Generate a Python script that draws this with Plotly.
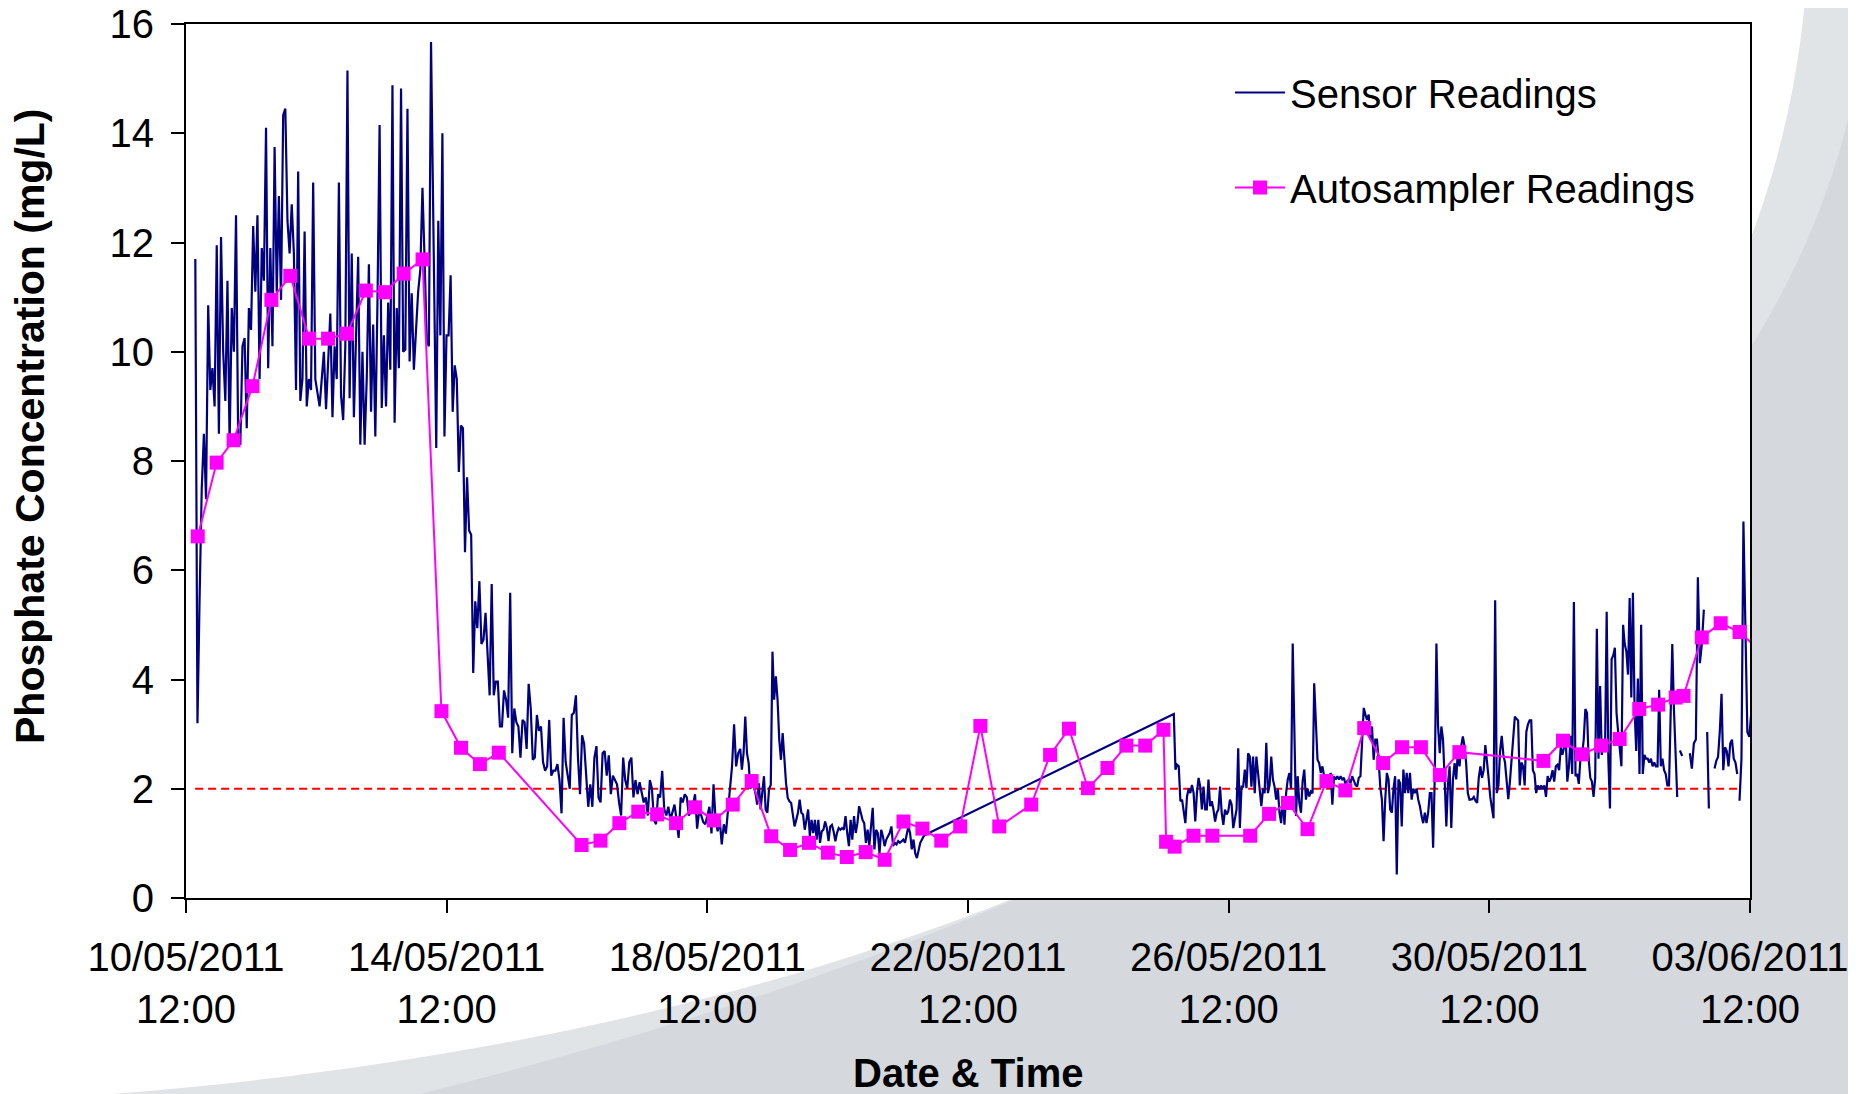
import numpy as np
import pandas as pd
import plotly.graph_objects as go

# ---------------- DATA ----------------
START = pd.Timestamp("2011-05-10 12:00")

# Sensor readings: continuous logging runs (start day, end day, values); days from 10/05/2011 12:00
sensor_run1_days = (0.143, 3.76)
sensor_run1 = [11.7, 3.2, 5.5, 7.5, 8.5, 7.3, 10.85, 9.3, 9.7, 9.0, 11.95, 8.5, 12.1, 10.0, 9.1, 11.3, 8.3,
               10.8, 10.0, 12.5, 8.4, 8.3, 10.1, 10.25, 8.6, 10.8, 10.4, 12.3, 11.1, 12.5, 9.5, 11.9, 11.3,
               14.1, 9.7, 11.9, 10.1, 13.75, 11.1, 12.85, 10.95, 14.33, 14.45, 12.4, 11.8, 12.7, 11.8, 9.3,
               13.3, 9.1, 9.5, 12.2, 9.0, 9.5, 9.3, 13.1, 9.5, 9.2, 9.0, 9.5, 10.0, 8.95, 9.7, 10.7, 8.8,
               10.1, 9.5, 13.1, 9.2, 8.75, 10.1, 15.15, 9.15, 11.8, 8.8, 10.3, 11.74, 8.3, 10.0, 8.3, 9.5,
               11.6, 8.9, 10.5, 8.45, 10.9, 14.15, 8.97, 10.3, 9.0, 10.9, 9.67, 14.88, 8.7, 10.8, 9.7,
               14.82, 10.0, 10.04, 14.45, 9.82, 11.07, 9.67, 10.4, 11.1, 11.5, 13.0, 11.68, 10.2, 10.1, 15.67]

sensor_run2_days = (3.84, 8.505)
sensor_run2 = [8.24, 12.4, 10.3, 14.0, 8.45, 10.3, 10.3, 11.4, 8.9, 9.75, 9.5, 7.8, 8.65, 8.6, 6.33, 7.7, 6.73,
               6.65, 4.12, 5.43, 4.94, 5.8, 4.65, 4.73, 5.22, 4.53, 3.71, 5.75, 3.71, 3.96, 3.96, 3.14, 3.14,
               3.8, 3.63, 3.3, 5.59, 2.65, 3.47, 3.22, 3.14, 2.57, 3.26, 3.22, 2.73, 3.92, 3.47, 2.53, 2.57,
               3.35, 3.06, 3.14, 2.49, 2.33, 2.41, 3.26, 2.24, 2.33, 2.33, 2.45, 2.16, 1.55, 3.3, 2.49, 2.24,
               2.0, 3.35, 3.39, 3.71, 2.57, 1.9, 2.98, 2.82, 2.16, 1.67, 2.08, 1.67, 2.57, 2.78, 1.84, 1.75,
               2.65, 2.69, 2.24, 2.61, 1.9, 2.24, 2.16, 2.08, 1.75, 1.51, 2.57, 2.16, 2.0, 2.49, 2.57, 1.84,
               2.16, 1.9, 2.12, 1.9, 1.75, 1.84, 1.51, 2.16, 2.0, 1.43, 1.35, 1.9, 1.84, 2.33, 1.63, 1.51,
               1.67, 1.43, 1.59, 1.71, 1.43, 1.1, 1.84, 1.75, 1.9, 1.84, 1.51, 1.59, 1.71, 1.9, 1.27, 1.59,
               1.51, 1.39, 1.35, 1.51, 1.67, 1.18, 2.08, 1.43, 1.22, 1.43, 0.98, 1.35, 1.18, 1.59, 2.0, 2.41,
               3.18, 2.41, 2.65, 2.73]

sensor_run3_days = (8.53, 11.346)
sensor_run3 = [2.35, 2.65, 3.32, 2.65, 2.47, 2.0, 2.17, 2.05, 1.92, 1.71, 2.1, 1.62, 2.0, 2.23, 1.62, 1.56, 2.0,
               2.07, 4.51, 3.63, 4.06, 3.63, 2.9, 2.53, 3.02, 2.53, 2.1, 1.83, 1.77, 1.74, 1.5, 1.31, 1.43,
               1.56, 1.8, 1.56, 1.53, 1.25, 1.43, 1.62, 1.13, 1.43, 1.19, 1.43, 1.07, 1.43, 1.01, 1.22, 1.25,
               1.4, 1.28, 1.04, 1.31, 1.34, 1.22, 1.04, 1.19, 1.28, 1.25, 1.28, 1.25, 1.5, 1.19, 0.95, 1.43,
               1.07, 1.5, 1.19, 1.37, 1.68, 1.56, 1.43, 1.37, 1.01, 1.25, 0.95, 1.31, 1.65, 0.89, 1.25, 1.19,
               0.82, 1.25, 1.13, 0.95, 1.07, 1.13, 1.19, 1.31, 0.95, 1.01, 0.98, 1.04, 1.01, 1.04, 1.07, 1.01,
               1.19, 1.31, 1.19, 0.89, 1.07, 0.82, 0.73, 0.89, 1.01, 1.07, 1.13, 1.16]

sensor_run4_days = (15.158, 19.695)
sensor_run4 = [3.37, 2.35, 2.44, 2.41, 1.77, 1.8, 1.62, 1.37, 1.86, 2.0, 1.92, 2.07, 1.92, 1.4, 1.92, 2.2, 2.04,
               1.62, 2.04, 1.62, 1.62, 2.17, 1.68, 1.77, 1.62, 1.4, 1.56, 1.62, 2.04, 1.56, 1.34, 1.62, 1.53,
               1.59, 1.8, 1.71, 1.28, 1.43, 1.62, 2.74, 1.28, 2.04, 2.04, 2.35, 2.01, 2.65, 2.59, 2.04, 2.59,
               1.92, 2.59, 2.29, 1.92, 1.68, 2.0, 1.92, 2.84, 1.92, 2.07, 2.59, 2.17, 2.04, 1.8, 2.0, 1.56,
               1.37, 1.86, 1.34, 1.92, 2.17, 2.29, 2.0, 4.66, 2.65, 1.5, 2.23, 1.74, 1.56, 2.14, 2.35, 1.8,
               2.0, 1.86, 1.95, 1.92, 3.93, 3.14, 2.53, 2.47, 2.29, 2.41, 2.23, 2.17, 2.04, 2.17, 2.29, 1.71,
               2.23, 2.17, 2.23, 2.17, 2.23, 2.17, 2.2, 2.07, 2.14, 2.17, 2.1, 2.23, 2.14, 2.07, 2.04, 2.2,
               2.23, 2.78, 3.48, 3.36, 3.26, 3.36, 2.9, 3.14, 2.53, 2.9, 2.9, 2.53, 2.04, 1.8, 1.04, 1.8, 2.29,
               2.17, 1.62, 1.56, 2.0, 2.23, 0.43, 2.17, 2.1, 1.31, 2.35, 1.92, 2.29, 1.92, 2.29, 1.8, 2.0, 1.92,
               2.0, 1.8, 1.68, 1.5, 1.37, 1.56, 1.37, 1.56, 1.92, 1.92, 0.92, 2.23, 4.66, 3.14, 2.65, 3.14,
               2.9, 2.17, 1.31, 2.1, 2.41, 1.28, 2.17, 2.47, 2.17, 2.71, 2.41, 2.78, 2.96, 2.78, 2.47, 1.92, 1.8]

sensor_run5_days = (19.737, 22.883)
sensor_run5 = [1.81, 1.85, 1.78, 1.74, 2.2, 2.41, 2.2, 2.34, 2.8, 2.55, 2.2, 1.85, 1.64, 1.46, 5.45, 1.92, 2.06,
               2.69, 2.97, 2.62, 2.48, 2.2, 1.81, 2.13, 2.51, 2.9, 3.32, 3.28, 3.25, 2.06, 2.48, 2.41, 2.06,
               3.04, 3.18, 3.25, 3.25, 2.34, 2.27, 1.92, 2.06, 1.99, 2.06, 1.99, 2.06, 1.85, 2.23, 2.13, 2.2,
               2.34, 2.13, 2.41, 2.44, 2.34, 2.76, 2.62, 2.76, 2.97, 2.13, 2.41, 2.97, 2.27, 5.42, 2.23, 2.27,
               2.09, 2.55, 2.62, 2.9, 3.46, 3.39, 2.55, 2.2, 2.13, 1.85, 2.2, 4.93, 2.55, 3.88, 2.62, 2.83,
               2.72, 5.24, 2.55, 1.64, 4.37, 4.44, 4.58, 3.39, 3.04, 2.76, 2.41, 5.0, 4.65, 4.51, 4.09, 5.49,
               3.67, 5.59, 3.46, 2.69, 4.02, 2.27, 5.0, 2.27, 2.62, 2.55, 2.55, 2.48, 2.55, 2.41, 2.48, 2.41,
               2.41, 3.81, 2.41, 2.55, 2.34, 2.27, 2.06, 2.06, 3.53, 4.65, 3.46, 2.55, 1.85]

# short logging fragments near the end (separated by gaps)
sensor_run6_days = (22.924, 22.96)
sensor_run6 = [2.7, 2.6]
sensor_run7_days = (23.077, 23.292)
sensor_run7 = [2.65, 2.37, 2.83, 2.9, 5.87, 4.3, 4.65, 5.28]
sensor_run8_days = (23.343, 23.369)
sensor_run8 = [3.04, 1.64]
sensor_run9_days = (23.456, 23.804)
sensor_run9 = [2.37, 2.51, 2.58, 3.04, 3.74, 2.34, 2.76, 2.69, 2.41, 2.83, 2.9, 2.55, 2.48, 2.27]
sensor_run10_days = (23.839, 24.11)
sensor_run10 = [1.78, 2.55, 6.89, 5.0, 3.04, 2.95, 3.4, 5.2, 4.9, 3.2]

# Autosampler readings (day offset from 10/05/2011 12:00, mg/L)
auto_days = [0.18, 0.47, 0.73, 1.02, 1.31, 1.60, 1.89, 2.18, 2.47, 2.76, 3.05, 3.34, 3.63, 3.92, 4.22, 4.51,
             4.80, 6.07, 6.36, 6.65, 6.94, 7.23, 7.52, 7.81, 8.10, 8.39, 8.68, 8.98, 9.27, 9.56, 9.85, 10.14,
             10.43, 10.72, 11.01, 11.30, 11.59, 11.88, 12.19, 12.48, 12.97, 13.26, 13.55, 13.84, 14.14, 14.43,
             14.72, 15.00, 15.04, 15.17, 15.46, 15.75, 16.33, 16.62, 16.91, 17.21, 17.50, 17.79, 18.08, 18.37,
             18.66, 18.95, 19.24, 19.54, 20.83, 21.13, 21.42, 21.72, 22.00, 22.30, 22.59, 22.86, 22.98, 23.26,
             23.55, 23.84, 24.13]
auto_vals = [6.62, 7.97, 8.38, 9.37, 10.95, 11.39, 10.24, 10.24, 10.33, 11.12, 11.09, 11.43, 11.69, 3.42, 2.75,
             2.45, 2.66, 0.97, 1.05, 1.37, 1.58, 1.53, 1.37, 1.66, 1.42, 1.71, 2.14, 1.13, 0.88, 1.01, 0.83,
             0.75, 0.84, 0.70, 1.40, 1.27, 1.05, 1.31, 3.15, 1.31, 1.71, 2.62, 3.10, 2.01, 2.38, 2.79, 2.79,
             3.08, 1.03, 0.94, 1.14, 1.14, 1.14, 1.54, 1.74, 1.26, 2.14, 1.97, 3.11, 2.47, 2.76, 2.76, 2.25,
             2.67, 2.51, 2.88, 2.63, 2.79, 2.91, 3.46, 3.54, 3.67, 3.70, 4.77, 5.03, 4.87, 4.55]

# Limit line
limit_days = [0.14, 23.85]
limit_value = 2.0

# Axis ticks
x_tick_days = [0, 4, 8, 12, 16, 20, 24]
x_tick_text = ["10/05/2011<br>12:00", "14/05/2011<br>12:00", "18/05/2011<br>12:00", "22/05/2011<br>12:00",
               "26/05/2011<br>12:00", "30/05/2011<br>12:00", "03/06/2011<br>12:00"]
y_ticks = [0, 2, 4, 6, 8, 10, 12, 14, 16]


# ---------------- BUILD ----------------
def to_dt(days):
    return START + pd.to_timedelta(np.asarray(days, dtype=float), unit="D")


contiguous = [(sensor_run1_days, sensor_run1), (sensor_run2_days, sensor_run2), (sensor_run3_days, sensor_run3),
              (sensor_run4_days, sensor_run4), (sensor_run5_days, sensor_run5)]
fragments = [(sensor_run6_days, sensor_run6), (sensor_run7_days, sensor_run7), (sensor_run8_days, sensor_run8),
             (sensor_run9_days, sensor_run9), (sensor_run10_days, sensor_run10)]

sx, sy = [], []
for (d0, d1), vals in contiguous:
    sx.extend(list(to_dt(np.linspace(d0, d1, len(vals)))))
    sy.extend(vals)
for (d0, d1), vals in fragments:
    sx.append(None)
    sy.append(None)
    sx.extend(list(to_dt(np.linspace(d0, d1, len(vals)))))
    sy.extend(vals)

# page offset (browser body margin) compensation
OFF = 8
W, H = 1856 - OFF, 1094 - OFF
ML, MR, MT, MB = 186 - OFF, 106, 24 - OFF, 196
PW, PH = W - ML - MR, H - MT - MB


def px(x):  # page pixel x -> paper
    return (x - OFF - ML) / PW


def py(y):  # page pixel y -> paper
    return (H - MB - (y - OFF)) / PH


def pt(x, y):
    return f"{px(x):.4f},{py(y):.4f}"


FONT = "Liberation Sans, Arial, sans-serif"

fig = go.Figure()

fig.add_trace(go.Scatter(x=list(to_dt(limit_days)), y=[limit_value, limit_value], mode="lines",
                         line=dict(color="#ff0000", width=2, dash="8px,5px"), showlegend=False,
                         hoverinfo="skip"))
fig.add_trace(go.Scatter(x=sx, y=sy, mode="lines", name="Sensor Readings",
                         line=dict(color="#000080", width=2.2), legendgroup="a"))
fig.add_trace(go.Scatter(x=list(to_dt(auto_days)), y=auto_vals, mode="lines+markers",
                         name="Autosampler Readings", legendgroup="b",
                         line=dict(color="#ff00ff", width=2),
                         marker=dict(symbol="square", size=14, color="#ff00ff")))

light_path = ("M " + pt(1805, 0) + " C " + pt(1740, 700) + " " + pt(950, 1030) + " " + pt(110, 1094)
              + " L " + pt(1860, 1100) + " L " + pt(1860, 0) + " Z")
dark_path = ("M " + pt(1860, 60) + " C " + pt(1780, 560) + " " + pt(1200, 900) + " " + pt(420, 1094)
             + " L " + pt(1860, 1100) + " Z")

shapes = [
    dict(type="path", path=light_path, xref="paper", yref="paper", fillcolor="#e1e4e7",
         line=dict(width=0), layer="below"),
    dict(type="path", path=dark_path, xref="paper", yref="paper", fillcolor="#d5d8dd",
         line=dict(width=0), layer="below"),
    dict(type="rect", x0=0, x1=1, y0=0, y1=1, xref="paper", yref="paper", fillcolor="white",
         line=dict(width=0), layer="below"),
]

annotations = [
    dict(text="<b>Date & Time</b>", x=0.5, y=py(1073), xref="paper", yref="paper", showarrow=False,
         xanchor="center", yanchor="middle", font=dict(family=FONT, size=40, color="black")),
    dict(text="<b>Phosphate Concentration (mg/L)</b>", x=px(30), y=py(426), xref="paper", yref="paper",
         showarrow=False, textangle=-90, xanchor="center", yanchor="middle",
         font=dict(family=FONT, size=41, color="black")),
]

fig.update_layout(
    width=W, height=H, autosize=False,
    margin=dict(l=ML, r=MR, t=MT, b=MB, pad=0, autoexpand=False),
    paper_bgcolor="white", plot_bgcolor="white",
    font=dict(family=FONT, size=40, color="black"),
    shapes=shapes, annotations=annotations,
    showlegend=True,
    legend=dict(x=px(1230), y=py(60), xanchor="left", yanchor="top", bgcolor="rgba(0,0,0,0)",
                font=dict(family=FONT, size=40, color="black"), traceorder="grouped",
                tracegroupgap=40, itemwidth=50),
    xaxis=dict(type="date", range=[to_dt([0])[0], to_dt([24])[0]], automargin=False,
               tickvals=list(to_dt(x_tick_days)), ticktext=x_tick_text, ticklabeloverflow="allow",
               showgrid=False, zeroline=False, showline=True, linecolor="black", linewidth=2,
               mirror=True, ticks="outside", ticklen=13, tickwidth=1.5, tickcolor="black",
               tickfont=dict(family=FONT, size=40, color="black"), ticklabelstandoff=10),
    yaxis=dict(range=[0, 16], tickvals=y_ticks, showgrid=False, zeroline=False, automargin=False,
               showline=True, linecolor="black", linewidth=2, mirror=True, ticklabeloverflow="allow",
               ticks="outside", ticklen=13, tickwidth=1.5, tickcolor="black",
               tickfont=dict(family=FONT, size=40, color="black"), ticklabelstandoff=9),
)

fig.write_html("out.html")
